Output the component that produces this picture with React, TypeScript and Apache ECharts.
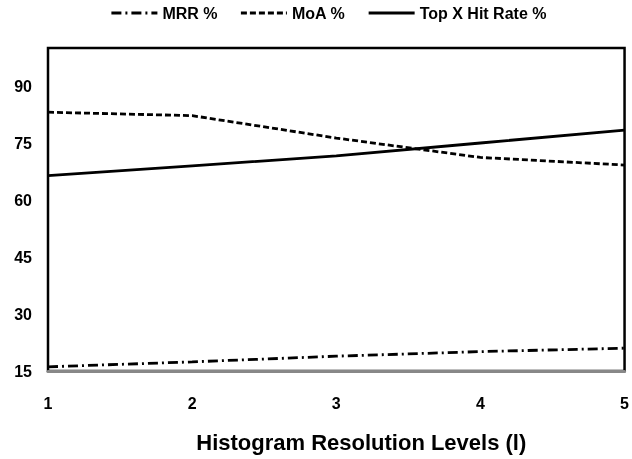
import React, { useEffect, useRef } from "react";
import * as echarts from "echarts";

const levels = [1, 2, 3, 4, 5];
const mrr = [16.1, 17.4, 18.9, 20.1, 21.0];
const moa = [83.1, 82.2, 76.3, 71.2, 69.2];
const topX = [66.4, 69.0, 71.6, 75.0, 78.4];
const seriesNames = ["MRR %", "MoA %", "Top X Hit Rate %"];

export default function App() {
  const ref = useRef<HTMLDivElement>(null);
  useEffect(() => {
    if (!ref.current) return;
    document.body.style.margin = "0";
    const chart = echarts.init(ref.current, undefined, { renderer: "svg" });
    const font = "Liberation Sans, Arial, sans-serif";
    const mk = (name: string, vals: number[], type: any) => ({
      name,
      type: "line",
      data: levels.map((l, i) => [l, vals[i]]),
      symbol: "none",
      lineStyle: { color: "#000", width: 2.8, type },
      itemStyle: { color: "#000" },
    });
    chart.setOption({
      animation: false,
      legend: {
        top: 0,
        left: 105,
        itemWidth: 46,
        itemHeight: 12,
        itemGap: 22,
        itemStyle: { opacity: 0 },
        lineStyle: { width: 2.8 },
        textStyle: { fontFamily: font, fontWeight: "bold", fontSize: 16, color: "#000" },
        data: seriesNames,
      },
      grid: {
        left: 48,
        right: 3,
        top: 48,
        bottom: 88,
        show: true,
        borderColor: "#000",
        borderWidth: 2.5,
      },
      xAxis: {
        type: "value",
        min: 1,
        max: 5,
        interval: 1,
        name: "Histogram Resolution Levels (l)",
        nameLocation: "middle",
        nameGap: 60,
        nameTextStyle: {
          fontFamily: font,
          fontWeight: "bold",
          fontSize: 22,
          color: "#000",
          padding: [0, 0, 0, 50],
        },
        axisLine: { show: true, lineStyle: { color: "#888", width: 3 } },
        axisTick: { show: false },
        splitLine: { show: false },
        axisLabel: { fontFamily: font, fontWeight: "bold", fontSize: 16, color: "#000", margin: 24 },
      },
      yAxis: {
        type: "value",
        min: 15,
        max: 100,
        interval: 15,
        axisLine: { show: false },
        axisTick: { show: false },
        splitLine: { show: false },
        axisLabel: {
          fontFamily: font,
          fontWeight: "bold",
          fontSize: 16,
          color: "#000",
          margin: 16,
          showMaxLabel: false,
        },
      },
      series: [
        mk(seriesNames[0], mrr, [10, 4, 2, 4]),
        mk(seriesNames[1], moa, [6, 3]),
        mk(seriesNames[2], topX, "solid"),
      ],
    });
    return () => chart.dispose();
  }, []);
  return (
    <div
      ref={ref}
      style={{ position: "fixed", left: 0, top: 0, width: 632, height: 459 }}
    />
  );
}
